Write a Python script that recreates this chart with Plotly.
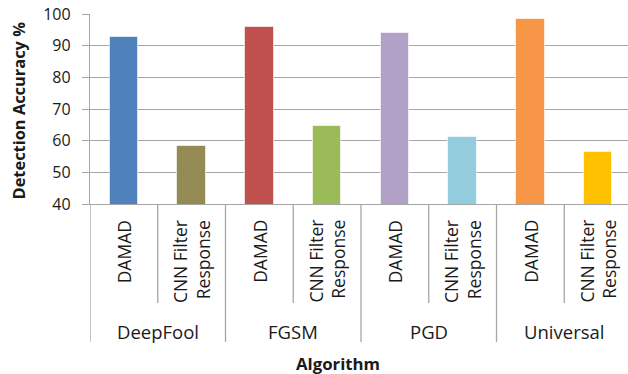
import plotly.graph_objects as go

# Detection accuracy (%) per attack algorithm and detection method
groups = ["DeepFool", "FGSM", "PGD", "Universal"]
methods = ["DAMAD", "CNN Filter<br>Response"]
damad = [92.6, 95.8, 94.0, 98.3]
cnn_filter = [58.4, 64.6, 61.2, 56.3]
damad_colors = ["#4F81BD", "#C0504D", "#B2A1C7", "#F79646"]
cnn_colors = ["#948A54", "#9BBB59", "#93CDDD", "#FFC000"]

FONT = "Open Sans"
GRID = "#a6a6a6"
TXT = "#1a1a1a"

n_groups = len(groups)
n_methods = len(methods)
damad_x = [g * n_methods for g in range(n_groups)]
cnn_x = [g * n_methods + 1 for g in range(n_groups)]

fig = go.Figure()
fig.add_trace(go.Bar(x=damad_x, y=damad, width=0.42,
                     marker=dict(color=damad_colors, line=dict(color="rgba(255,255,255,0.6)", width=1)),
                     showlegend=False))
fig.add_trace(go.Bar(x=cnn_x, y=cnn_filter, width=0.42,
                     marker=dict(color=cnn_colors, line=dict(color="rgba(255,255,255,0.6)", width=1)),
                     showlegend=False))

W, H = 628, 374
ml, mt, mb = 89.6, 14, 170
plot_h = H - mt - mb
cat_px = 67.8
x_hi = -0.5 + (W - ml) / cat_px


def py(pix):
    """Pixel row -> paper y."""
    return (H - mb - pix) / plot_h


shapes = []
annotations = []
n_cats = n_groups * n_methods
for k in range(n_cats + 1):
    xb = k - 0.5
    long_line = (k % n_methods == 0)
    shapes.append(dict(type="line", xref="x", yref="paper", x0=xb, x1=xb,
                       y0=0, y1=py(342 if long_line else 303),
                       line=dict(color=GRID, width=1.3)))

for g, grp in enumerate(groups):
    for m, meth in enumerate(methods):
        annotations.append(dict(x=g * n_methods + m, y=py(218), xref="x", yref="paper",
                                text=meth, textangle=-90, showarrow=False,
                                xanchor="center", yanchor="top", align="right",
                                font=dict(family=FONT, size=17.5, color=TXT)))
    annotations.append(dict(x=g * n_methods + (n_methods - 1) / 2, y=py(331),
                            xref="x", yref="paper", text=grp, showarrow=False,
                            xanchor="center", yanchor="middle",
                            font=dict(family=FONT, size=18.5, color=TXT)))

annotations.append(dict(x=(338 - ml) / (W - ml), y=py(363), xref="paper", yref="paper",
                        text="<b>Algorithm</b>", showarrow=False,
                        xanchor="center", yanchor="middle",
                        font=dict(family=FONT, size=16.8, color=TXT)))
annotations.append(dict(x=(18 - ml) / (W - ml), y=py(110), xref="paper", yref="paper",
                        text="<b>Detection Accuracy %</b>", textangle=-90, showarrow=False,
                        xanchor="center", yanchor="middle",
                        font=dict(family=FONT, size=16.4, color=TXT)))

fig.update_layout(
    width=W, height=H,
    margin=dict(l=ml, r=0, t=mt, b=mb),
    paper_bgcolor="white", plot_bgcolor="white",
    bargap=0,
    shapes=shapes, annotations=annotations,
    xaxis=dict(range=[-0.5, x_hi], showticklabels=False, showgrid=False,
               zeroline=False, showline=True, linecolor=GRID, linewidth=1.3),
    yaxis=dict(range=[40, 100], dtick=10, tick0=40, showgrid=True, gridcolor=GRID,
               gridwidth=1.3, zeroline=False, showline=True, linecolor=GRID,
               linewidth=1.3, ticks="outside", ticklen=7, tickcolor=GRID, tickwidth=1.3,
               ticklabelstandoff=8,
               tickfont=dict(family=FONT, size=16, color=TXT)),
)

fig.write_html("out.html")
